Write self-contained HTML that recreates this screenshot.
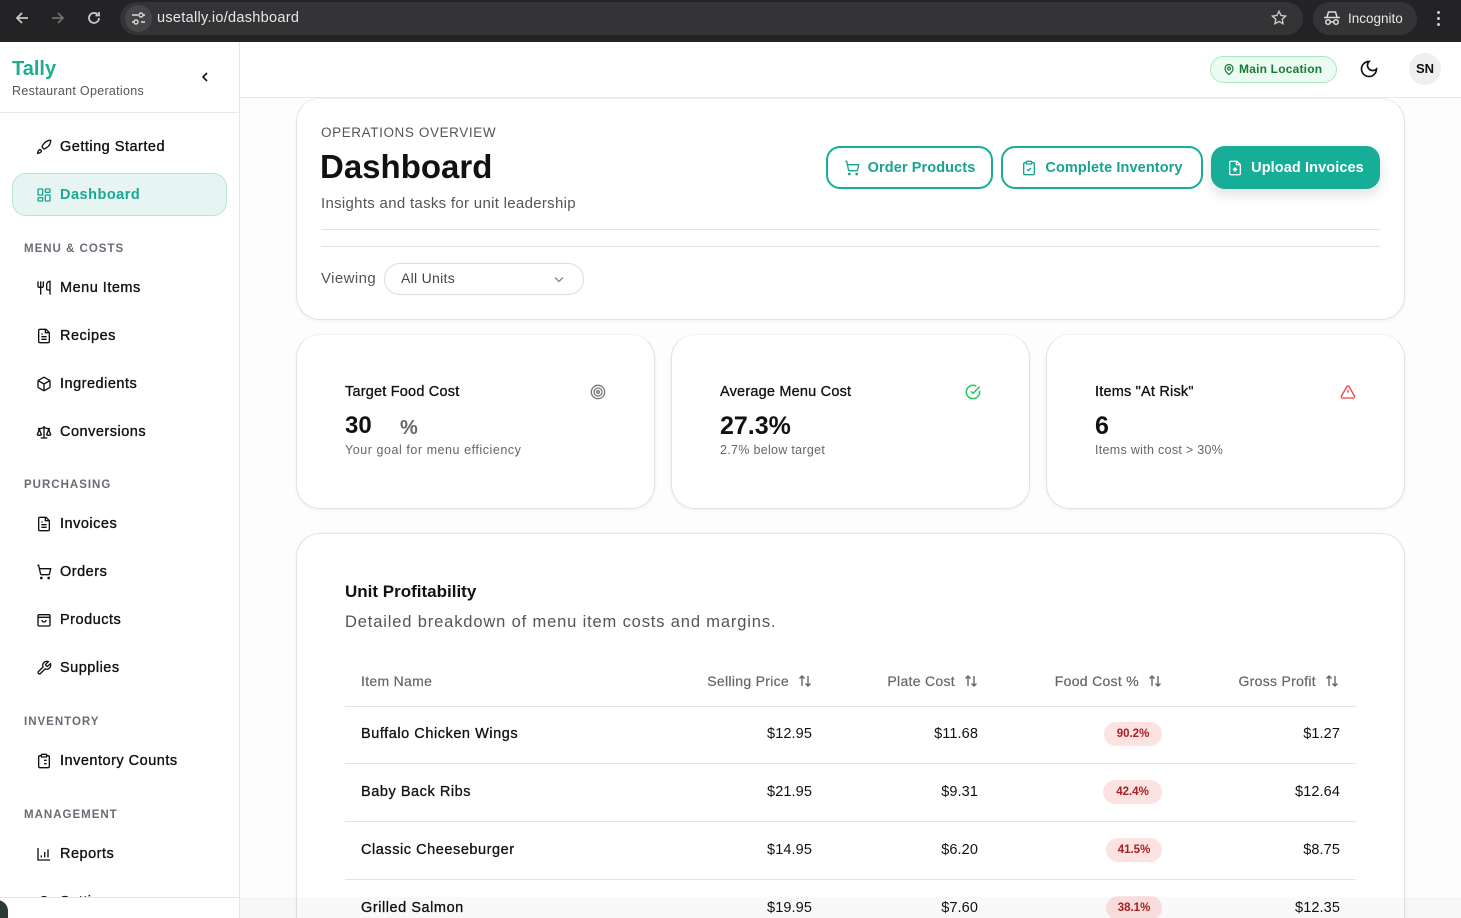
<!DOCTYPE html>
<html><head><meta charset="utf-8"><style>
*{margin:0;padding:0;box-sizing:border-box}
html,body{width:1461px;height:918px;overflow:hidden}
body{background:#fff;font-family:"Liberation Sans",Arial,sans-serif;color:#111}
#root{position:relative;width:1461px;height:918px;overflow:hidden}
.a{position:absolute;white-space:nowrap}
svg{display:block}
.nav{position:absolute;left:36px;height:24px;line-height:24px;font-size:14.5px;color:#111;letter-spacing:.5px;display:flex;align-items:center;-webkit-text-stroke:.35px #111}
.nav svg{margin-right:8px}
.sec{position:absolute;left:24px;font-size:11.5px;font-weight:700;color:#6b6b76;letter-spacing:1px;height:16px;line-height:16px}
.card{position:absolute;background:#fff;border:1px solid #e3e3e3;border-radius:24px;box-shadow:0 1px 3px rgba(0,0,0,.06)}
.btn{position:absolute;top:146px;height:43px;border:2px solid #17ad97;border-radius:14px;color:#17a38f;font-weight:700;font-size:14.5px;display:flex;align-items:center;justify-content:center;letter-spacing:.1px}
.btn svg{margin-right:8px}
.th{position:absolute;top:671px;height:20px;line-height:20px;font-size:14px;color:#666;letter-spacing:.3px;display:flex;align-items:center;-webkit-text-stroke:.2px #666}
.th svg{margin-left:9px}
.row{position:absolute;left:345px;width:1011px;height:1px;background:#e4e4e4}
.td{position:absolute;height:20px;line-height:20px;font-size:14.5px;color:#111;letter-spacing:.1px}
.nm{letter-spacing:.55px;-webkit-text-stroke:.3px #111}
.badge{position:absolute;height:24px;line-height:24px;width:58px;border-radius:12px;background:#fde2e2;color:#a8201f;font-size:11.5px;font-weight:700;text-align:center}
</style></head><body><div id="root">

<!-- browser chrome -->
<div class="a" style="left:0;top:0;width:1461px;height:42px;background:#232325"></div>
<svg class="a" style="left:12px;top:8px" width="20" height="20" viewBox="0 0 20 20"><path d="M16 10H5M10 5l-5 5 5 5" stroke="#c8c8c8" stroke-width="1.8" fill="none"/></svg>
<svg class="a" style="left:48px;top:8px" width="20" height="20" viewBox="0 0 20 20"><path d="M4 10h11M10 5l5 5-5 5" stroke="#6d6d6d" stroke-width="1.8" fill="none"/></svg>
<svg class="a" style="left:84px;top:8px" width="20" height="20" viewBox="0 0 20 20"><path d="M15 10a5 5 0 1 1-1.5-3.6M15 4v3.5h-3.5" stroke="#c8c8c8" stroke-width="1.8" fill="none"/></svg>
<div class="a" style="left:120px;top:2px;width:1183px;height:33px;border-radius:17px;background:#343436"></div>
<div class="a" style="left:125px;top:5px;width:27px;height:27px;border-radius:14px;background:#464648"></div>
<svg class="a" style="left:130px;top:10px" width="17" height="17" viewBox="0 0 17 17"><g stroke="#ddd" stroke-width="1.4" fill="none"><path d="M2 5h6M11 12h4"/><circle cx="11" cy="5" r="2"/><circle cx="6" cy="12" r="2"/><path d="M13 5h2M2 12h2"/></g></svg>
<div class="a" style="left:157px;top:9px;font-size:14.5px;color:#e8e8e8;line-height:18px;letter-spacing:.3px">usetally.io/dashboard</div>
<svg class="a" style="left:1270px;top:9px" width="18" height="18" viewBox="0 0 24 24"><path d="M12 3l2.7 5.6 6.1.8-4.5 4.2 1.1 6-5.4-2.9-5.4 2.9 1.1-6L3.2 9.4l6.1-.8z" stroke="#ccc" stroke-width="1.8" fill="none"/></svg>
<div class="a" style="left:1313px;top:2px;width:104px;height:33px;border-radius:17px;background:#343436"></div>
<svg class="a" style="left:1323px;top:10px" width="18" height="16" viewBox="0 0 18 16"><g stroke="#ddd" stroke-width="1.5" fill="none"><path d="M4 7l1.5-5h7L14 7M1 7.5h16"/><circle cx="5" cy="12" r="2.3"/><circle cx="13" cy="12" r="2.3"/><path d="M7.3 12h3.4"/></g></svg>
<div class="a" style="left:1348px;top:11px;font-size:13.5px;color:#e8e8e8;line-height:16px">Incognito</div>
<div class="a" style="left:1437px;top:11px;width:3px;height:3px;border-radius:2px;background:#ccc;box-shadow:0 6px 0 #ccc,0 12px 0 #ccc"></div>

<!-- sidebar -->
<div class="a" style="left:0;top:42px;width:240px;height:876px;background:#fff;border-right:1px solid #e6e6e6"></div>
<div class="a" style="left:12px;top:57px;font-size:20px;font-weight:700;color:#1bae93;line-height:24px">Tally</div>
<div class="a" style="left:12px;top:83px;font-size:12.5px;color:#55555e;line-height:16px;letter-spacing:.3px">Restaurant Operations</div>
<svg class="a" style="left:198px;top:70px" width="14" height="14" viewBox="0 0 14 14"><path d="M9 3L5 7l4 4" stroke="#111" stroke-width="1.6" fill="none"/></svg>
<div class="a" style="left:0;top:112px;width:239px;height:1px;background:#e6e6e6"></div>

<div class="nav" style="top:135px"><svg width="16" height="16" viewBox="0 0 24 24" fill="none" stroke="#111" stroke-width="2"><path d="M4.5 16.5c-1.5 1.3-2 5-2 5s3.7-.5 5-2c.7-.8.7-2.1-.1-2.9a2.2 2.2 0 0 0-2.9-.1zM12 15l-3-3a22 22 0 0 1 2-3.9A12.9 12.9 0 0 1 22 2c0 2.7-.8 7.5-6 11a22 22 0 0 1-4 2z"/></svg>Getting Started</div>
<div class="a" style="left:12px;top:173px;width:215px;height:43px;border-radius:14px;background:#e6f4f2;border:1px solid #b8e4dc"></div>
<div class="nav" style="top:183px;color:#1aa892;font-weight:700;-webkit-text-stroke:0"><svg width="16" height="16" viewBox="0 0 24 24" fill="none" stroke="#1aa892" stroke-width="2"><rect x="3" y="3" width="7" height="9" rx="1"/><rect x="14" y="3" width="7" height="5" rx="1"/><rect x="14" y="12" width="7" height="9" rx="1"/><rect x="3" y="16" width="7" height="5" rx="1"/></svg>Dashboard</div>

<div class="sec" style="top:241px">MENU &amp; COSTS</div>
<div class="nav" style="top:276px"><svg width="16" height="16" viewBox="0 0 24 24" fill="none" stroke="#111" stroke-width="2"><path d="M3 2v7c0 1.1.9 2 2 2h4a2 2 0 0 0 2-2V2M7 2v20M21 15V2a5 5 0 0 0-5 5v6c0 1.1.9 2 2 2h3zm0 0v7"/></svg>Menu Items</div>
<div class="nav" style="top:324px"><svg width="16" height="16" viewBox="0 0 24 24" fill="none" stroke="#111" stroke-width="2"><path d="M15 2H6a2 2 0 0 0-2 2v16a2 2 0 0 0 2 2h12a2 2 0 0 0 2-2V7z"/><path d="M14 2v5h5M16 13H8M16 17H8M10 9H8"/></svg>Recipes</div>
<div class="nav" style="top:372px"><svg width="16" height="16" viewBox="0 0 24 24" fill="none" stroke="#111" stroke-width="2"><path d="M21 8a2 2 0 0 0-1-1.7l-7-4a2 2 0 0 0-2 0l-7 4A2 2 0 0 0 3 8v8a2 2 0 0 0 1 1.7l7 4a2 2 0 0 0 2 0l7-4A2 2 0 0 0 21 16z"/><path d="M3.3 7L12 12l8.7-5M12 22V12"/></svg>Ingredients</div>
<div class="nav" style="top:420px"><svg width="16" height="16" viewBox="0 0 24 24" fill="none" stroke="#111" stroke-width="2"><path d="M16 16l3-8 3 8c-.9.7-1.9 1-3 1s-2.1-.3-3-1zM2 16l3-8 3 8c-.9.7-1.9 1-3 1s-2.1-.3-3-1zM7 21h10M12 3v18M3 7h2c2 0 5-1 7-2 2 1 5 2 7 2h2"/></svg>Conversions</div>

<div class="sec" style="top:477px">PURCHASING</div>
<div class="nav" style="top:512px"><svg width="16" height="16" viewBox="0 0 24 24" fill="none" stroke="#111" stroke-width="2"><path d="M15 2H6a2 2 0 0 0-2 2v16a2 2 0 0 0 2 2h12a2 2 0 0 0 2-2V7z"/><path d="M14 2v5h5M16 13H8M16 17H8M10 9H8"/></svg>Invoices</div>
<div class="nav" style="top:560px"><svg width="16" height="16" viewBox="0 0 24 24" fill="none" stroke="#111" stroke-width="2"><circle cx="8" cy="21" r="1"/><circle cx="19" cy="21" r="1"/><path d="M2 2h2l2.7 12.4a2 2 0 0 0 2 1.6h9.7a2 2 0 0 0 2-1.6L22 7H5.1"/></svg>Orders</div>
<div class="nav" style="top:608px"><svg width="16" height="16" viewBox="0 0 24 24" fill="none" stroke="#111" stroke-width="2"><rect x="3" y="4" width="18" height="17" rx="2"/><path d="M3 8h18M9 12a3 3 0 0 0 6 0"/></svg>Products</div>
<div class="nav" style="top:656px"><svg width="16" height="16" viewBox="0 0 24 24" fill="none" stroke="#111" stroke-width="2"><path d="M14.7 6.3a1 1 0 0 0 0 1.4l1.6 1.6a1 1 0 0 0 1.4 0l3.8-3.8a6 6 0 0 1-7.9 7.9l-6.9 6.9a2.1 2.1 0 0 1-3-3l6.9-6.9a6 6 0 0 1 7.9-7.9z"/></svg>Supplies</div>

<div class="sec" style="top:714px">INVENTORY</div>
<div class="nav" style="top:749px"><svg width="16" height="16" viewBox="0 0 24 24" fill="none" stroke="#111" stroke-width="2"><rect x="8" y="2" width="8" height="4" rx="1"/><path d="M16 4h2a2 2 0 0 1 2 2v14a2 2 0 0 1-2 2H6a2 2 0 0 1-2-2V6a2 2 0 0 1 2-2h2M12 11h4M12 16h4M8 11h.01M8 16h.01"/></svg>Inventory Counts</div>

<div class="sec" style="top:807px">MANAGEMENT</div>
<div class="nav" style="top:842px"><svg width="16" height="16" viewBox="0 0 24 24" fill="none" stroke="#111" stroke-width="2"><path d="M3 3v18h18M8 17v-3M13 17V9M18 17V5"/></svg>Reports</div>
<div class="nav" style="top:890px"><svg width="16" height="16" viewBox="0 0 24 24" fill="none" stroke="#111" stroke-width="2"><circle cx="12" cy="12" r="3"/><circle cx="12" cy="12" r="8"/></svg>Settings</div>
<div class="a" style="left:0;top:897px;width:239px;height:21px;background:#fff;border-top:1px solid #e6e6e6"></div>
<div class="a" style="left:-14px;top:900px;width:22px;height:30px;border-radius:11px;background:#2a3a36"></div>

<!-- main header -->
<div class="a" style="left:240px;top:42px;width:1221px;height:876px;background:#fdfdfd"></div>
<div class="a" style="left:240px;top:42px;width:1221px;height:56px;background:#fff;border-bottom:1px solid #e8e8e8"></div>
<div class="a" style="left:1210px;top:56px;width:127px;height:27px;border-radius:14px;background:#ecfbf1;border:1px solid #a9e8c0"></div>
<svg class="a" style="left:1223px;top:63px" width="12" height="13" viewBox="0 0 24 24" fill="none" stroke="#177a3a" stroke-width="2.4"><path d="M20 10c0 5-5.5 10.2-7.4 11.8a1 1 0 0 1-1.2 0C9.5 20.2 4 15 4 10a8 8 0 0 1 16 0"/><circle cx="12" cy="10" r="3"/></svg>
<div class="a" style="left:1239px;top:61px;font-size:12px;font-weight:700;color:#177a3a;line-height:16px;letter-spacing:.2px">Main Location</div>
<svg class="a" style="left:1359px;top:59px" width="20" height="20" viewBox="0 0 24 24" fill="none" stroke="#111" stroke-width="2"><path d="M12 3a6 6 0 0 0 9 9 9 9 0 1 1-9-9z"/></svg>
<div class="a" style="left:1409px;top:53px;width:32px;height:32px;border-radius:16px;background:#efefef;font-size:13px;font-weight:700;text-align:center;line-height:32px;color:#111">SN</div>

<!-- overview card -->
<div class="card" style="left:296px;top:98px;width:1109px;height:222px;border-top-color:#eee"></div>
<div class="a" style="left:321px;top:125px;font-size:13.5px;color:#555;letter-spacing:.6px;line-height:16px">OPERATIONS OVERVIEW</div>
<div class="a" style="left:320px;top:149px;font-size:33px;font-weight:700;color:#111;line-height:36px">Dashboard</div>
<div class="a" style="left:321px;top:195px;font-size:15px;color:#555;line-height:18px;letter-spacing:.3px">Insights and tasks for unit leadership</div>

<div class="btn" style="left:826px;width:167px"><svg width="16" height="16" viewBox="0 0 24 24" fill="none" stroke="#17a38f" stroke-width="2"><circle cx="8" cy="21" r="1"/><circle cx="19" cy="21" r="1"/><path d="M2 2h2l2.7 12.4a2 2 0 0 0 2 1.6h9.7a2 2 0 0 0 2-1.6L22 7H5.1"/></svg>Order Products</div>
<div class="btn" style="left:1001px;width:202px"><svg width="16" height="16" viewBox="0 0 24 24" fill="none" stroke="#17a38f" stroke-width="2"><rect x="8" y="2" width="8" height="4" rx="1"/><path d="M16 4h2a2 2 0 0 1 2 2v14a2 2 0 0 1-2 2H6a2 2 0 0 1-2-2V6a2 2 0 0 1 2-2h2M9 14l2 2 4-4"/></svg>Complete Inventory</div>
<div class="btn" style="left:1211px;width:169px;background:#17ae98;color:#fff;box-shadow:0 6px 12px rgba(0,0,0,.12)"><svg width="16" height="16" viewBox="0 0 24 24" fill="none" stroke="#fff" stroke-width="2"><path d="M15 2H6a2 2 0 0 0-2 2v16a2 2 0 0 0 2 2h12a2 2 0 0 0 2-2V7z"/><path d="M14 2v5h5M12 18v-6M9 15l3-3 3 3"/></svg>Upload Invoices</div>

<div class="a" style="left:321px;top:229px;width:1059px;height:1px;background:#e2e2e2"></div>
<div class="a" style="left:321px;top:246px;width:1059px;height:1px;background:#e2e2e2"></div>
<div class="a" style="left:321px;top:270px;font-size:15px;color:#555;line-height:18px;letter-spacing:.4px">Viewing</div>
<div class="a" style="left:384px;top:263px;width:200px;height:32px;border-radius:16px;border:1px solid #dcdcdc;background:#fff"></div>
<div class="a" style="left:401px;top:270px;font-size:14px;color:#444;line-height:17px;letter-spacing:.3px">All Units</div>
<svg class="a" style="left:553px;top:273px" width="12" height="12" viewBox="0 0 12 12"><path d="M2 4.5l4 4 4-4" stroke="#888" stroke-width="1.3" fill="none"/></svg>

<!-- stat cards -->
<div class="card" style="left:296px;top:334px;width:359px;height:175px;border-top-color:#f2f2f2"></div>
<div class="card" style="left:671px;top:334px;width:359px;height:175px;border-top-color:#f2f2f2"></div>
<div class="card" style="left:1046px;top:334px;width:359px;height:175px;border-top-color:#f2f2f2"></div>

<div class="a" style="left:345px;top:383px;font-size:14.5px;color:#111;line-height:18px;letter-spacing:.2px;-webkit-text-stroke:.3px #111">Target Food Cost</div>
<svg class="a" style="left:590px;top:384px" width="16" height="16" viewBox="0 0 24 24" fill="none" stroke="#777" stroke-width="2"><circle cx="12" cy="12" r="10"/><circle cx="12" cy="12" r="6"/><circle cx="12" cy="12" r="2"/></svg>
<div class="a" style="left:345px;top:413px;font-size:24px;font-weight:700;color:#111;line-height:26px">30</div>
<div class="a" style="left:400px;top:416px;font-size:20px;font-weight:700;color:#666;line-height:24px">%</div>
<div class="a" style="left:345px;top:443px;font-size:12.5px;color:#666;line-height:15px;letter-spacing:.55px">Your goal for menu efficiency</div>

<div class="a" style="left:720px;top:383px;font-size:14.5px;color:#111;line-height:18px;letter-spacing:.2px;-webkit-text-stroke:.3px #111">Average Menu Cost</div>
<svg class="a" style="left:965px;top:384px" width="16" height="16" viewBox="0 0 24 24" fill="none" stroke="#22c55e" stroke-width="2.2"><path d="M21.8 10A10 10 0 1 1 17 3.3"/><path d="M9 11l3 3L22 4"/></svg>
<div class="a" style="left:720px;top:413px;font-size:25px;font-weight:700;color:#111;line-height:26px">27.3%</div>
<div class="a" style="left:720px;top:443px;font-size:12.5px;color:#666;line-height:15px;letter-spacing:.3px">2.7% below target</div>

<div class="a" style="left:1095px;top:383px;font-size:14.5px;color:#111;line-height:18px;letter-spacing:.2px;-webkit-text-stroke:.3px #111">Items "At Risk"</div>
<svg class="a" style="left:1340px;top:384px" width="16" height="16" viewBox="0 0 24 24" fill="none" stroke="#ef4444" stroke-width="2"><path d="M21.7 18l-8-14a2 2 0 0 0-3.5 0l-8 14A2 2 0 0 0 4 21h16a2 2 0 0 0 1.7-3zM12 9v4M12 17h.01"/></svg>
<div class="a" style="left:1095px;top:413px;font-size:25px;font-weight:700;color:#111;line-height:26px">6</div>
<div class="a" style="left:1095px;top:443px;font-size:12.5px;color:#666;line-height:15px;letter-spacing:.3px">Items with cost &gt; 30%</div>

<!-- table card -->
<div class="card" style="left:296px;top:533px;width:1109px;height:420px"></div>
<div class="a" style="left:345px;top:582px;font-size:17px;font-weight:700;color:#111;line-height:20px">Unit Profitability</div>
<div class="a" style="left:345px;top:612px;font-size:16.5px;color:#555;line-height:20px;letter-spacing:.85px">Detailed breakdown of menu item costs and margins.</div>

<div class="th" style="left:361px">Item Name</div>
<div class="th" style="right:649px">Selling Price<svg width="14" height="14" viewBox="0 0 14 14" fill="none" stroke="#666" stroke-width="1.4"><path d="M4 12V2M1.5 4.5L4 2l2.5 2.5M10 2v10M7.5 9.5L10 12l2.5-2.5"/></svg></div>
<div class="th" style="right:483px">Plate Cost<svg width="14" height="14" viewBox="0 0 14 14" fill="none" stroke="#666" stroke-width="1.4"><path d="M4 12V2M1.5 4.5L4 2l2.5 2.5M10 2v10M7.5 9.5L10 12l2.5-2.5"/></svg></div>
<div class="th" style="right:299px">Food Cost %<svg width="14" height="14" viewBox="0 0 14 14" fill="none" stroke="#666" stroke-width="1.4"><path d="M4 12V2M1.5 4.5L4 2l2.5 2.5M10 2v10M7.5 9.5L10 12l2.5-2.5"/></svg></div>
<div class="th" style="right:122px">Gross Profit<svg width="14" height="14" viewBox="0 0 14 14" fill="none" stroke="#666" stroke-width="1.4"><path d="M4 12V2M1.5 4.5L4 2l2.5 2.5M10 2v10M7.5 9.5L10 12l2.5-2.5"/></svg></div>

<div class="row" style="top:706px"></div>
<div class="row" style="top:763px"></div>
<div class="row" style="top:821px"></div>
<div class="row" style="top:879px"></div>

<div class="td nm" style="left:361px;top:724px">Buffalo Chicken Wings</div>
<div class="td" style="right:649px;top:724px">$12.95</div>
<div class="td" style="right:483px;top:724px">$11.68</div>
<div class="badge" style="left:1104px;top:722px">90.2%</div>
<div class="td" style="right:121px;top:724px">$1.27</div>

<div class="td nm" style="left:361px;top:782px">Baby Back Ribs</div>
<div class="td" style="right:649px;top:782px">$21.95</div>
<div class="td" style="right:483px;top:782px">$9.31</div>
<div class="badge" style="left:1103px;top:780px;width:59px">42.4%</div>
<div class="td" style="right:121px;top:782px">$12.64</div>

<div class="td nm" style="left:361px;top:840px">Classic Cheeseburger</div>
<div class="td" style="right:649px;top:840px">$14.95</div>
<div class="td" style="right:483px;top:840px">$6.20</div>
<div class="badge" style="left:1106px;top:838px;width:56px">41.5%</div>
<div class="td" style="right:121px;top:840px">$8.75</div>

<div class="td nm" style="left:361px;top:898px">Grilled Salmon</div>
<div class="td" style="right:649px;top:898px">$19.95</div>
<div class="td" style="right:483px;top:898px">$7.60</div>
<div class="badge" style="left:1106px;top:896px;width:56px">38.1%</div>
<div class="td" style="right:121px;top:898px">$12.35</div>

<div class="a" style="left:240px;top:897px;width:1221px;height:21px;background:rgba(0,0,0,.025)"></div>
</div></body></html>
